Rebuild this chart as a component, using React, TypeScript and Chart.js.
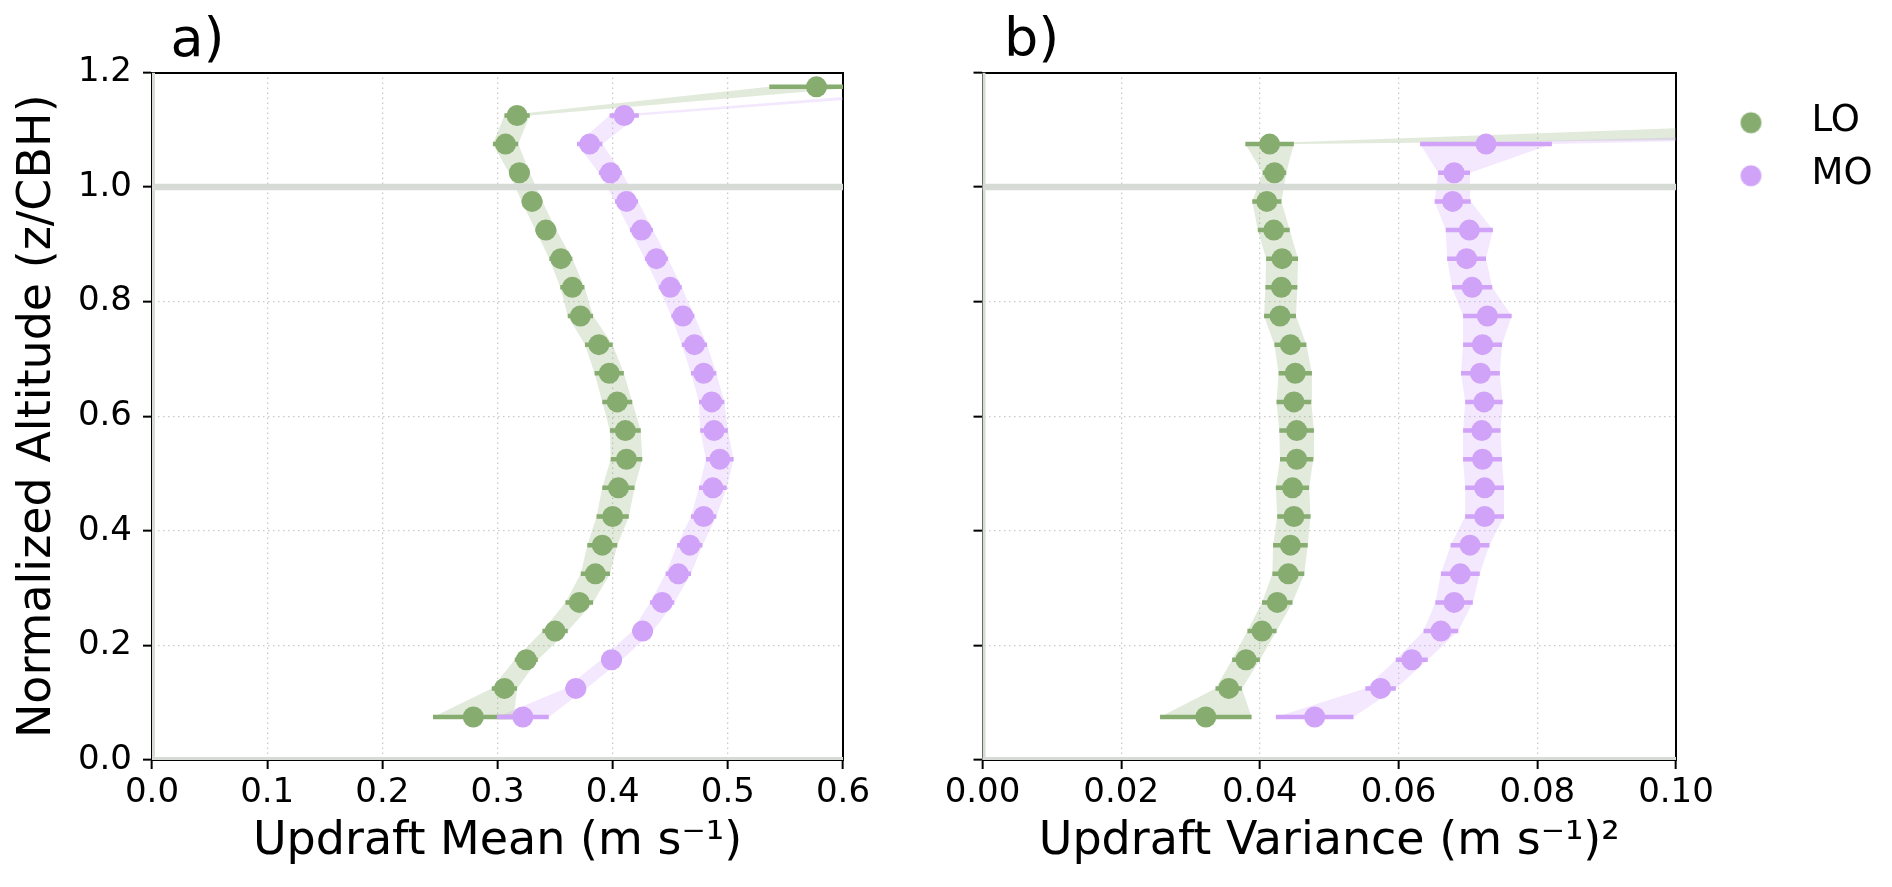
import React, { useEffect, useRef } from 'react';
import { Chart, registerables } from 'chart.js';

Chart.register(...registerables);

// ---------------- data ----------------
const LEVELS_MEAN = [0.075, 0.125, 0.175, 0.225, 0.275, 0.325, 0.375, 0.425, 0.475, 0.525, 0.575, 0.625, 0.675, 0.725, 0.775, 0.825, 0.875, 0.925, 0.975, 1.025, 1.075, 1.125, 1.175];
const LO_MEAN = [0.279, 0.306, 0.325, 0.350, 0.371, 0.385, 0.391, 0.400, 0.405, 0.412, 0.411, 0.404, 0.397, 0.388, 0.372, 0.365, 0.355, 0.342, 0.330, 0.319, 0.307, 0.317, 0.577];
const LO_MEAN_ERR = [0.035, 0.011, 0.010, 0.011, 0.012, 0.0127, 0.013, 0.014, 0.014, 0.0137, 0.0134, 0.013, 0.0127, 0.012, 0.011, 0.0105, 0.010, 0.009, 0.009, 0.009, 0.011, 0.011, 0.041];
const MO_MEAN = [0.322, 0.368, 0.399, 0.426, 0.443, 0.457, 0.467, 0.479, 0.487, 0.493, 0.488, 0.486, 0.479, 0.471, 0.461, 0.450, 0.438, 0.425, 0.412, 0.398, 0.380, 0.410, 0.730];
const MO_MEAN_ERR = [0.0225, 0.009, 0.009, 0.009, 0.0105, 0.011, 0.011, 0.011, 0.012, 0.012, 0.012, 0.011, 0.011, 0.011, 0.010, 0.010, 0.010, 0.010, 0.010, 0.010, 0.011, 0.0127, 0.020];

const LEVELS_VAR = [0.075, 0.125, 0.175, 0.225, 0.275, 0.325, 0.375, 0.425, 0.475, 0.525, 0.575, 0.625, 0.675, 0.725, 0.775, 0.825, 0.875, 0.925, 0.975, 1.025, 1.075, 1.125];
const LO_VAR = [0.0322, 0.0355, 0.0380, 0.0403, 0.0425, 0.0441, 0.0444, 0.0449, 0.0447, 0.0453, 0.0453, 0.0449, 0.0451, 0.0444, 0.0429, 0.0431, 0.0432, 0.0420, 0.0410, 0.0421, 0.0414, 0.290];
const LO_VAR_ERR = [0.0066, 0.0019, 0.0020, 0.0021, 0.0022, 0.0023, 0.0025, 0.0024, 0.0024, 0.0024, 0.0025, 0.0025, 0.0024, 0.0023, 0.0023, 0.0023, 0.0023, 0.0023, 0.0021, 0.0017, 0.0035, 0.140];
const MO_VAR = [0.0479, 0.0574, 0.0619, 0.0661, 0.0680, 0.0689, 0.0703, 0.0724, 0.0724, 0.0721, 0.0720, 0.0723, 0.0718, 0.0721, 0.0728, 0.0706, 0.0698, 0.0702, 0.0678, 0.0680, 0.0726, 0.240];
const MO_VAR_ERR = [0.0056, 0.0022, 0.0023, 0.0025, 0.0027, 0.0028, 0.0028, 0.0028, 0.0028, 0.0028, 0.0027, 0.0027, 0.0028, 0.0028, 0.0035, 0.0029, 0.0028, 0.0034, 0.0026, 0.0023, 0.0095, 0.020];

const SERIES_NAMES = ['LO', 'MO'];
const X_TICKS_MEAN = ['0.0', '0.1', '0.2', '0.3', '0.4', '0.5', '0.6'];
const X_TICKS_VAR = ['0.00', '0.02', '0.04', '0.06', '0.08', '0.10'];
const Y_TICKS = ['0.0', '0.2', '0.4', '0.6', '0.8', '1.0', '1.2'];
const REF_ALTITUDE = 1.0;
const Y_MIN = 0;
const Y_MAX = 1.2;

// ---------------- style ----------------
const FONT = "'DejaVu Sans', sans-serif";
const GREEN = '#86ac6f';
const PURPLE = '#d0a2f8';
const GREEN_BAND = 'rgba(134,172,111,0.25)';
const PURPLE_BAND = 'rgba(208,162,248,0.25)';
const REF_GRAY = '#d6dcd5';
const GRID_GRAY = '#c9c9c9';

Chart.defaults.font.family = FONT;

type Pt = { x: number | null; y: number };

function buildDatasets(levels: number[], loM: number[], loE: number[], moM: number[], moE: number[], xMax: number) {
  const pts = (m: number[], e: number[], s: number): Pt[] => levels.map((y, i) => ({ x: m[i] + s * e[i], y }));
  const bars = (m: number[], e: number[]): Pt[] =>
    levels.flatMap((y, i) => [{ x: m[i] - e[i], y }, { x: m[i] + e[i], y }, { x: null, y }]);
  const plain = { pointRadius: 0, pointHoverRadius: 0, fill: false as const, clip: 0 };
  return [
    { label: 'LO low', data: pts(loM, loE, -1), borderWidth: 0, borderColor: 'transparent', ...plain, order: 9 },
    { label: 'LO high', data: pts(loM, loE, 1), borderWidth: 0, borderColor: 'transparent', ...plain, fill: '-1', backgroundColor: GREEN_BAND, order: 8 },
    { label: 'MO low', data: pts(moM, moE, -1), borderWidth: 0, borderColor: 'transparent', ...plain, order: 7 },
    { label: 'MO high', data: pts(moM, moE, 1), borderWidth: 0, borderColor: 'transparent', ...plain, fill: '-1', backgroundColor: PURPLE_BAND, order: 6 },
    { label: 'CBH', data: [{ x: 0, y: REF_ALTITUDE }, { x: xMax, y: REF_ALTITUDE }], borderColor: REF_GRAY, borderWidth: 6.5, ...plain, order: 5 },
    { label: 'x0', data: [{ x: 0, y: Y_MIN }, { x: 0, y: Y_MAX }], borderColor: REF_GRAY, borderWidth: 6, ...plain, order: 5 },
    { label: 'y0', data: [{ x: 0, y: Y_MIN }, { x: xMax, y: Y_MIN }], borderColor: REF_GRAY, borderWidth: 6, ...plain, order: 5 },
    { label: 'LO err', data: bars(loM, loE), borderColor: GREEN, borderWidth: 4.5, borderCapStyle: 'butt', ...plain, order: 4 },
    { label: SERIES_NAMES[0], data: pts(loM, loE, 0), showLine: false, pointRadius: 10.5, pointHoverRadius: 10.5, pointBackgroundColor: GREEN, pointBorderColor: GREEN, pointBorderWidth: 0, fill: false, clip: 0, order: 3 },
    { label: 'MO err', data: bars(moM, moE), borderColor: PURPLE, borderWidth: 4.5, borderCapStyle: 'butt', ...plain, order: 2 },
    { label: SERIES_NAMES[1], data: pts(moM, moE, 0), showLine: false, pointRadius: 10.5, pointHoverRadius: 10.5, pointBackgroundColor: PURPLE, pointBorderColor: PURPLE, pointBorderWidth: 0, fill: false, clip: 0, order: 1 },
  ];
}

const PLOT_TOP = 72.5;
const X_AXIS_H = 127;

function buildScales(o: { xMax: number; xStep: number; xTicks: string[]; xTitle: string; yWidth: number; y2Width: number; yLabels: boolean }) {
  const frame = { display: true, color: '#000', width: 2 };
  return {
    x: {
      type: 'linear', position: 'bottom', min: 0, max: o.xMax,
      ticks: { stepSize: o.xStep, autoSkip: false, maxRotation: 0, padding: 4, color: '#000', font: { family: FONT, size: 34 }, callback: (_v: any, i: number) => o.xTicks[i] },
      grid: { display: true, color: GRID_GRAY, lineWidth: 1.3, drawTicks: true, tickLength: 9, tickColor: '#000', tickWidth: 2, tickBorderDash: [] },
      border: { ...frame, dash: [1.5, 3.5] },
      title: { display: true, text: o.xTitle, color: '#000', font: { family: FONT, size: 46 }, padding: { top: 0, bottom: 17 } },
      afterFit: (s: any) => { s.height = X_AXIS_H; },
    },
    y: {
      type: 'linear', position: 'left', min: Y_MIN, max: Y_MAX,
      ticks: { stepSize: 0.2, display: o.yLabels, padding: 11, color: '#000', font: { family: FONT, size: 34 }, callback: (_v: any, i: number) => Y_TICKS[i] },
      grid: { display: true, color: GRID_GRAY, lineWidth: 1.3, drawTicks: true, tickLength: 9, tickColor: '#000', tickWidth: 2, tickBorderDash: [] },
      border: { ...frame, dash: [1.5, 3.5] },
      title: { display: o.yLabels, text: 'Normalized Altitude (z/CBH)', color: '#000', font: { family: FONT, size: 46 }, padding: { top: 10.4, bottom: 0 } },
      afterFit: (s: any) => { s.width = o.yWidth; },
    },
    x2: {
      type: 'linear', position: 'top', min: 0, max: o.xMax,
      ticks: { display: false }, grid: { display: false, drawTicks: false }, border: frame,
      afterFit: (s: any) => { s.height = PLOT_TOP; },
    },
    y2: {
      type: 'linear', position: 'right', min: Y_MIN, max: Y_MAX,
      ticks: { display: false }, grid: { display: false, drawTicks: false }, border: frame,
      afterFit: (s: any) => { s.width = o.y2Width; },
    },
  };
}

const panelLabel = (text: string, dx: number) => ({
  id: 'panelLabel',
  afterDraw(chart: any) {
    const { ctx, chartArea } = chart;
    ctx.save();
    ctx.font = `54px ${FONT}`;
    ctx.fillStyle = '#000';
    ctx.textAlign = 'left';
    ctx.textBaseline = 'alphabetic';
    ctx.fillText(text, chartArea.left + dx, 56);
    ctx.restore();
  },
});

// legend marker: circle offset inside a wider image so that the marker/text gap matches
function dotImage(color: string) {
  const c = document.createElement('canvas');
  c.width = 70;
  c.height = 27;
  const g = c.getContext('2d')!;
  g.fillStyle = color;
  g.beginPath();
  g.arc(11.5, 15, 10.5, 0, Math.PI * 2);
  g.fill();
  return c;
}

export default function App() {
  const leftRef = useRef<HTMLCanvasElement>(null);
  const rightRef = useRef<HTMLCanvasElement>(null);

  useEffect(() => {
    const baseOpts = { responsive: false, animation: false, events: [], indexAxis: 'y' };

    const left = new Chart(leftRef.current!, {
      type: 'line',
      data: { datasets: buildDatasets(LEVELS_MEAN, LO_MEAN, LO_MEAN_ERR, MO_MEAN, MO_MEAN_ERR, 0.6) as any },
      options: {
        ...baseOpts,
        layout: { padding: 0 },
        scales: buildScales({ xMax: 0.6, xStep: 0.1, xTicks: X_TICKS_MEAN, xTitle: 'Updraft Mean (m s⁻¹)', yWidth: 152, y2Width: 57, yLabels: true }) as any,
        plugins: { legend: { display: false }, tooltip: { enabled: false } },
      } as any,
      plugins: [panelLabel('a)', 18.5)],
    });

    const colors = [GREEN, PURPLE];
    const dots = colors.map(dotImage);
    const right = new Chart(rightRef.current!, {
      type: 'line',
      data: { datasets: buildDatasets(LEVELS_VAR, LO_VAR, LO_VAR_ERR, MO_VAR, MO_VAR_ERR, 0.1) as any },
      options: {
        ...baseOpts,
        layout: { padding: { left: 0, top: 0, bottom: 0, right: 12 } },
        scales: buildScales({ xMax: 0.1, xStep: 0.02, xTicks: X_TICKS_VAR, xTitle: 'Updraft Variance (m s⁻¹)²', yWidth: 82.5, y2Width: 64, yLabels: false }) as any,
        plugins: {
          tooltip: { enabled: false },
          legend: {
            display: true, position: 'right', align: 'start', fullSize: false, maxWidth: 140,
            title: { display: true, text: '', font: { size: 1 }, padding: { top: 13, bottom: 0 } },
            labels: {
              usePointStyle: true, boxWidth: 37, boxHeight: 37, padding: 16, color: '#000',
              font: { family: FONT, size: 37 },
              generateLabels: () => SERIES_NAMES.map((name, i) => ({
                text: name, pointStyle: dots[i], fillStyle: colors[i], strokeStyle: colors[i],
                fontColor: '#000', lineWidth: 0, hidden: false, datasetIndex: i === 0 ? 8 : 10,
              })),
            },
          },
        },
      } as any,
      plugins: [panelLabel('b)', 21.5)],
    });

    return () => { left.destroy(); right.destroy(); };
  }, []);

  return (
    <div style={{ position: 'absolute', left: 0, top: 0, width: 1892, height: 887, background: '#fff' }}>
      <canvas ref={leftRef} width={900} height={887} style={{ position: 'absolute', left: 0, top: 0 }} />
      <canvas ref={rightRef} width={992} height={887} style={{ position: 'absolute', left: 900, top: 0 }} />
    </div>
  );
}
